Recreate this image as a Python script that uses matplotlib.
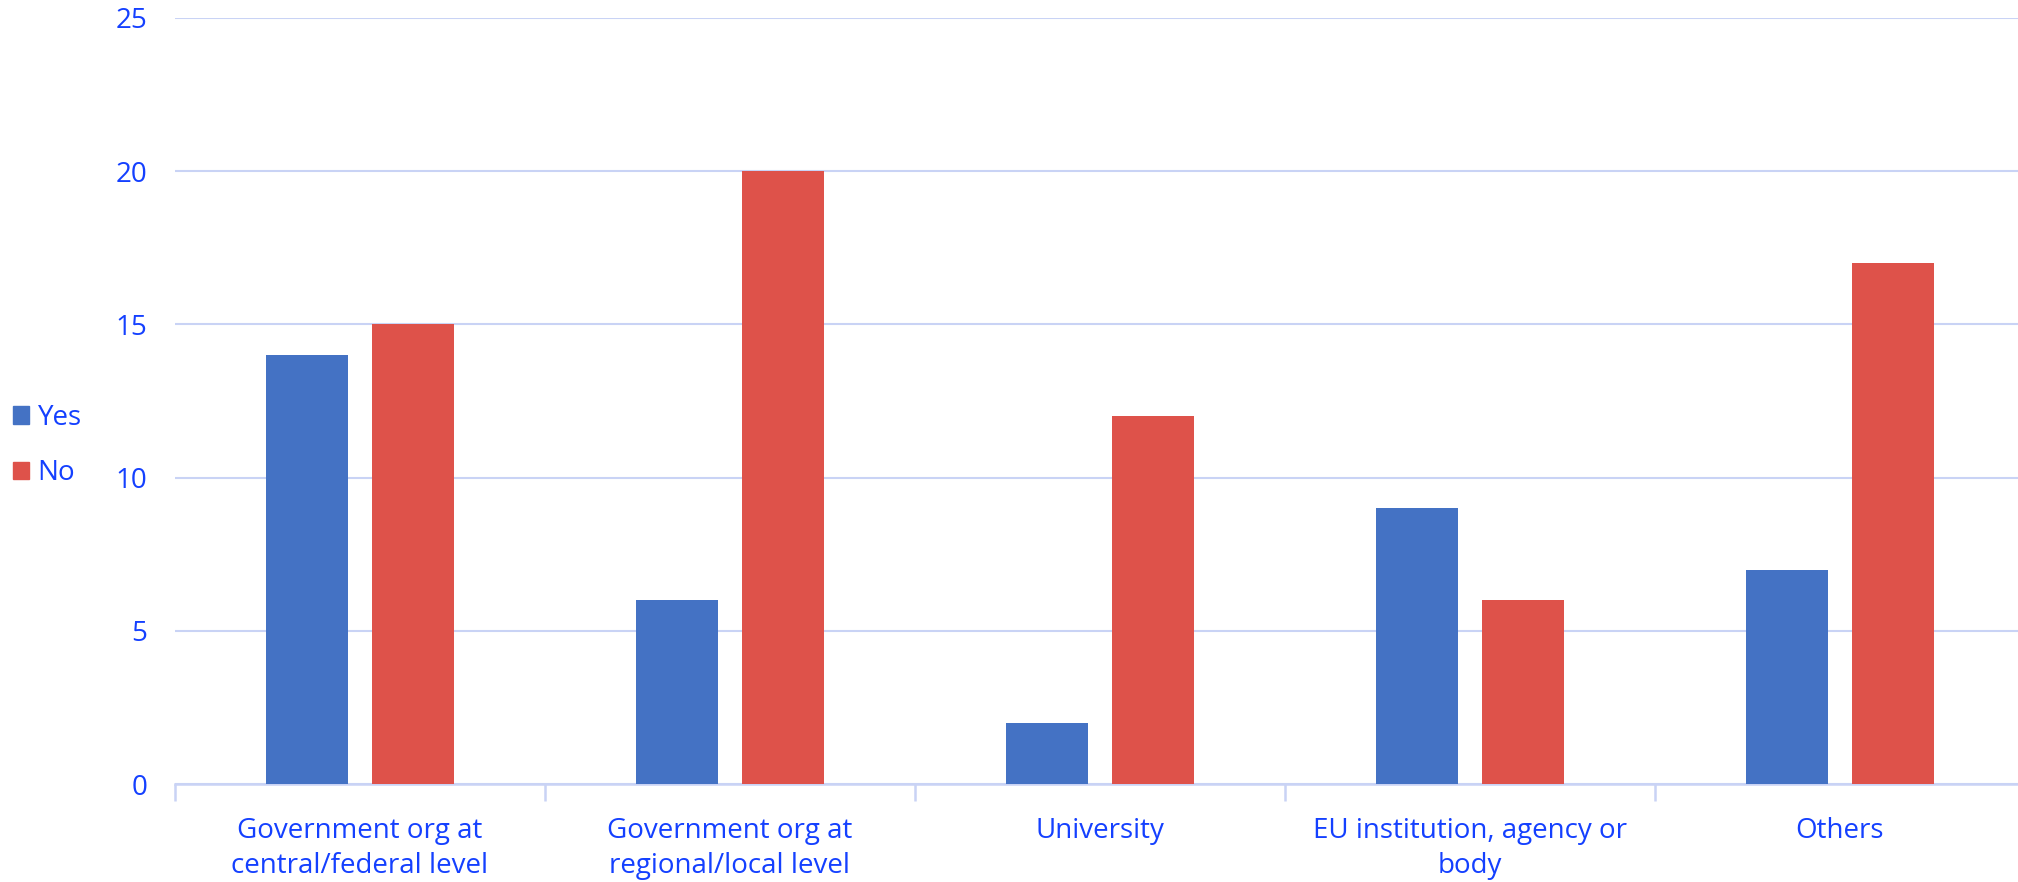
import matplotlib
matplotlib.use("Agg")
import matplotlib.pyplot as plt
import numpy as np
from matplotlib.patches import Patch

categories = ["Government org at\ncentral/federal level",
              "Government org at\nregional/local level",
              "University",
              "EU institution, agency or\nbody",
              "Others"]
yes_vals = [14, 6, 2, 9, 7]
no_vals = [15, 20, 12, 6, 17]
yticks = [0, 5, 10, 15, 20, 25]

TEXT = "#1440FF"
GRID = "#C9D3F5"
BLUE = "#4472C4"
RED = "#DE524A"
FONT = ["Open Sans", "DejaVu Sans"]
FS = 20

plt.rcParams['font.family'] = FONT

fig = plt.figure(figsize=(20.18, 8.82), dpi=100)
ax = fig.add_axes([0.0867, 0.111, 0.9167, 0.8686])

x = np.arange(len(categories))
w = 0.223
off = 0.143
ax.bar(x - off, yes_vals, width=w, color=BLUE, zorder=3)
ax.bar(x + off, no_vals, width=w, color=RED, zorder=3)

ax.set_xlim(-0.5, len(categories) - 0.5)
ax.set_ylim(0, 25)
ax.set_yticks(yticks)
ax.yaxis.grid(True, color=GRID, linewidth=1.5, zorder=0)
ax.set_axisbelow(True)

for s in ["left", "right", "top"]:
    ax.spines[s].set_visible(False)
ax.spines["bottom"].set_color(GRID)
ax.spines["bottom"].set_linewidth(1.8)

ax.tick_params(axis="y", length=0, pad=20, labelsize=FS, labelcolor=TEXT)
ax.set_xticks(x)
ax.set_xticklabels(categories, fontsize=FS, color=TEXT, linespacing=1.32)
ax.tick_params(axis="x", which="major", length=0, pad=24)
ax.set_xticks(np.arange(-0.5, len(categories) - 0.4, 1.0), minor=True)
ax.tick_params(axis="x", which="minor", length=12, width=1.8, color=GRID)

handles = [Patch(color=BLUE, label="Yes"), Patch(color=RED, label="No")]
fig.legend(handles=handles, loc="center left", bbox_to_anchor=(0.0, 0.495),
           frameon=False, fontsize=FS, labelcolor=TEXT,
           handlelength=0.6, handleheight=0.6, handletextpad=0.3,
           labelspacing=1.0, borderaxespad=0.05)

fig.savefig("out.png", dpi=100)
